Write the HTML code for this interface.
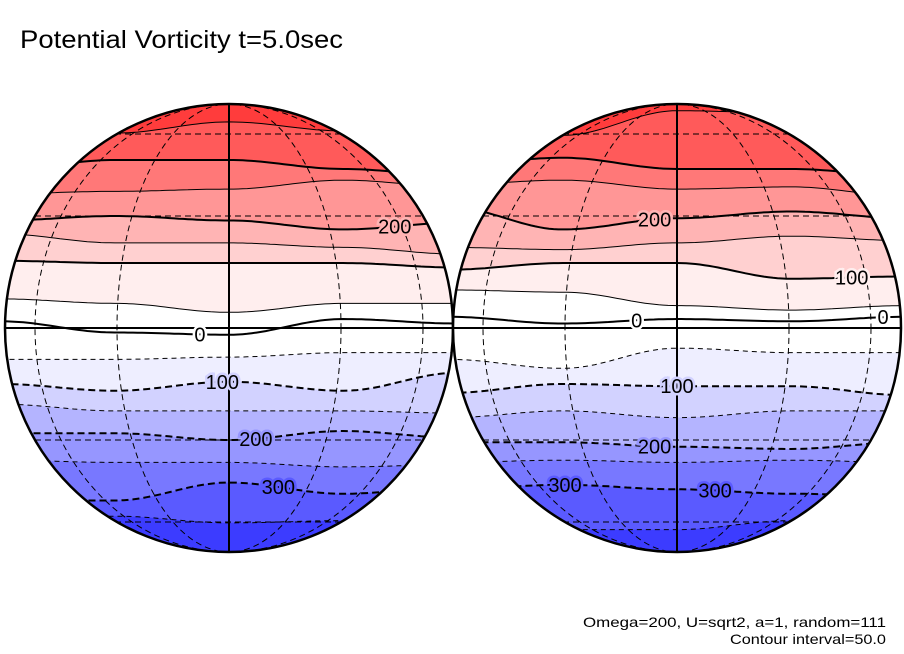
<!DOCTYPE html>
<html><head><meta charset="utf-8"><style>
html,body{margin:0;padding:0;background:#fff;}
svg{display:block;font-family:"Liberation Sans",sans-serif;}
</style></head><body>
<svg id="chart" width="904" height="654" viewBox="0 0 904 654" xmlns="http://www.w3.org/2000/svg">
<text x="20" y="48" font-size="25" textLength="323" lengthAdjust="spacingAndGlyphs">Potential Vorticity t=5.0sec</text>
<text x="583" y="627" font-size="14" textLength="303" lengthAdjust="spacingAndGlyphs">Omega=200, U=sqrt2, a=1, random=111</text>
<text x="730" y="644" font-size="14" textLength="156" lengthAdjust="spacingAndGlyphs">Contour interval=50.0</text>
<g id="globes"></g>
</svg>
<script>
// Contour levels (PV) from north to south
const levels = [350,300,250,200,150,100,50,0,-50,-100,-150,-200,-250,-300,-350];
// Band colours: index 0 = above first level, i+1 = below level i
const bandColors = ["#ff3c3c","#ff5a5a","#ff7878","#ff9696","#ffb4b4","#ffd0d0","#ffeeee","#ffffff","#ffffff","#eeeeff","#d2d2ff","#b4b4ff","#9696ff","#7878ff","#5a5aff","#3c3cff"];
// Contour positions as sin(latitude) at 5 sample longitudes across each globe
const leftContours = [
 [0.84,0.87,0.92,0.88,0.82],[0.71,0.75,0.75,0.71,0.68],[0.60,0.61,0.62,0.66,0.63],
 [0.48,0.50,0.48,0.44,0.47],[0.42,0.38,0.38,0.36,0.33],[0.30,0.29,0.29,0.29,0.27],
 [0.13,0.11,0.07,0.11,0.11],[0.03,-0.02,-0.03,0.04,0.02],[-0.14,-0.14,-0.13,-0.11,-0.11],
 [-0.25,-0.28,-0.24,-0.28,-0.20],[-0.34,-0.37,-0.37,-0.37,-0.38],[-0.47,-0.47,-0.50,-0.46,-0.49],
 [-0.59,-0.60,-0.60,-0.62,-0.61],[-0.77,-0.77,-0.69,-0.74,-0.71],[-0.84,-0.84,-0.87,-0.86,-0.86]];
const rightContours = [
 [0.84,0.86,0.97,0.96,0.86],[0.73,0.76,0.71,0.71,0.68],[0.64,0.66,0.62,0.63,0.59],
 [0.54,0.44,0.49,0.52,0.49],[0.36,0.35,0.38,0.41,0.39],[0.26,0.29,0.29,0.22,0.23],
 [0.17,0.16,0.10,0.08,0.10],[0.05,0.02,0.04,0.03,0.05],[-0.14,-0.18,-0.09,-0.11,-0.11],
 [-0.29,-0.25,-0.26,-0.26,-0.30],[-0.40,-0.37,-0.40,-0.37,-0.37],[-0.51,-0.51,-0.53,-0.54,-0.51],
 [-0.60,-0.59,-0.60,-0.59,-0.60],[-0.72,-0.70,-0.72,-0.74,-0.75],[-0.95,-0.90,-0.90,-0.86,-0.90]];
// Contour labels: [text, sample fraction across globe (-1..1), contour index]
const leftLabels = [["200",0.74,3],["0",-0.13,7],["100",-0.03,9],["200",0.12,11],["300",0.22,13]];
const rightLabels = [["200",-0.1,3],["100",0.78,5],["0",-0.18,7],["0",0.92,7],["100",0.0,9],["200",-0.1,11],["300",0.17,13],["300",-0.5,13]];
const gridLats = [60,30,-30,-60];
const gridLons = [30,60];

const NS="http://www.w3.org/2000/svg";
const root=document.getElementById('globes');
function mk(tag,attrs,parent){const e=document.createElementNS(NS,tag);for(const k in attrs)e.setAttribute(k,attrs[k]);parent.appendChild(e);return e;}
function sampleY(arr,u,cy,r){
  const t=(u+1)/2*(arr.length-1);let i=Math.floor(t);if(i>=arr.length-1)i=arr.length-2;if(i<0)i=0;
  const f=t-i, s=(1-Math.cos(Math.PI*f))/2;const v=arr[i]*(1-s)+arr[i+1]*s;return cy-r*v;}
function curvePts(arr,cx,cy,r){const p=[];for(let k=0;k<=100;k++){const u=-1+2*k/100;p.push([cx+u*r*1.02,sampleY(arr,u,cy,r)]);}return p;}

function drawGlobe(name,cx,cy,r,contours,labels){
  const g=mk('g',{},root);
  
  
  const cid='clip-'+name;
  const defs=mk('defs',{},g);const cp=mk('clipPath',{id:cid},defs);mk('circle',{cx:cx,cy:cy,r:r},cp);
  const body=mk('g',{'clip-path':'url(#'+cid+')'},g);
  const bg=mk('rect',{x:cx-r-5,y:cy-r-5,width:2*r+10,height:2*r+10,fill:bandColors[0]},body);
  
  
  contours.forEach((arr,i)=>{
    const pts=curvePts(arr,cx,cy,r);
    let d='M'+pts.map(p=>p[0].toFixed(1)+','+p[1].toFixed(1)).join(' L');
    d+=' L'+(cx+r+5)+','+(cy+r+5)+' L'+(cx-r-5)+','+(cy+r+5)+' Z';
    const band=mk('path',{d:d,fill:bandColors[i+1]},body);
    
    
  });
  gridLats.forEach(la=>{const y=cy-r*Math.sin(la*Math.PI/180);
    const gl=mk('line',{x1:cx-r,x2:cx+r,y1:y,y2:y,stroke:'#000','stroke-width':1,'stroke-dasharray':'6,4'},body);
    
    });
  gridLons.forEach(lo=>{const rx=r*Math.sin(lo*Math.PI/180);
    const ge=mk('ellipse',{cx:cx,cy:cy,rx:rx,ry:r,fill:'none',stroke:'#000','stroke-width':1,'stroke-dasharray':'6,4'},body);
    
    });
  contours.forEach((arr,i)=>{
    const pts=curvePts(arr,cx,cy,r);
    const d='M'+pts.map(p=>p[0].toFixed(1)+','+p[1].toFixed(1)).join(' L');
    const thick=levels[i]%100===0;
    const a={d:d,fill:'none',stroke:'#000','stroke-width':thick?2:1};
    if(levels[i]<0)a['stroke-dasharray']=thick?'7,4':'5,4';
    const c=mk('path',a,body);
    
    
  });
  const eq=mk('line',{x1:cx-r,x2:cx+r,y1:cy,y2:cy,stroke:'#000','stroke-width':2},body);
  
  
  const cm=mk('line',{x1:cx,x2:cx,y1:cy-r,y2:cy+r,stroke:'#000','stroke-width':2},body);
  
  
  labels.forEach(L=>{
    const u=L[1];const x=cx+u*r;const y=sampleY(contours[L[2]],u,cy,r);
    const bc=bandColors[L[2]+1];
    const t=mk('text',{x:x,y:y+7,'font-size':20,'text-anchor':'middle',fill:'#000',stroke:bc,'stroke-width':5,'paint-order':'stroke'},g);
    t.textContent=L[0];
    
    
  });
  const o=mk('circle',{cx:cx,cy:cy,r:r,fill:'none',stroke:'#000','stroke-width':2.5},g);
  
  
}
drawGlobe('left-globe',229,328,224,leftContours,leftLabels);
drawGlobe('right-globe',677,328,224,rightContours,rightLabels);
</script>
</body></html>
